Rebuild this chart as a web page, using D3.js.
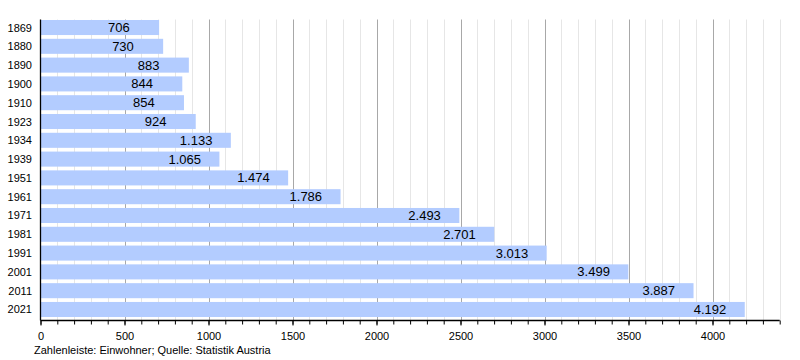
<!DOCTYPE html>
<html><head><meta charset="utf-8">
<script src="https://cdn.jsdelivr.net/npm/d3@7"></script>
<style>
body{margin:0;background:#fff;}
svg{display:block;font-family:"Liberation Sans",Arial,sans-serif;}
</style></head>
<body>
<svg id="c" width="800" height="360"></svg>
<script>
const years = ["1869","1880","1890","1900","1910","1923","1934","1939","1951","1961","1971","1981","1991","2001","2011","2021"];
const population = [706,730,883,844,854,924,1133,1065,1474,1786,2493,2701,3013,3499,3887,4192];
const labels = ["706","730","883","844","854","924","1.133","1.065","1.474","1.786","2.493","2.701","3.013","3.499","3.887","4.192"];
const majorTicks = [0,500,1000,1500,2000,2500,3000,3500,4000];
const footer = "Zahlenleiste: Einwohner; Quelle: Statistik Austria";

const svg = d3.select("#c");
const m = {left:40.5, top:19.5, bottom:320.5};
const x = d3.scaleLinear().domain([0,4400]).range([m.left, m.left + 4400*0.168]);
const y = d3.scaleBand().domain(years).range([20, 317]).paddingInner(0.2).paddingOuter(0);

const minor = d3.range(100, 4401, 100);
// gridlines
svg.append("g").selectAll("line").data(minor).join("line")
  .attr("x1", d=>Math.round(x(d))+0.5).attr("x2", d=>Math.round(x(d))+0.5)
  .attr("y1", m.top).attr("y2", m.bottom)
  .attr("stroke", d=> d%500===0 ? "#a8a8a8" : "#e6e6e6").attr("stroke-width",1);

// bars
svg.append("g").selectAll("rect").data(population).join("rect")
  .attr("x", x(0)).attr("y", (d,i)=>y(years[i]))
  .attr("width", d=>x(d)-x(0)).attr("height", y.bandwidth())
  .attr("fill", "#b3ccff");

// value labels
svg.append("g").selectAll("text").data(population).join("text")
  .attr("x", d=>x(d)-51).attr("y", (d,i)=>y(years[i])+y.bandwidth()/2+4.5)
  .attr("font-size", 13).attr("fill", "#000")
  .text((d,i)=>labels[i]);

// year labels
svg.append("g").selectAll("text").data(years).join("text")
  .attr("x", 32).attr("y", d=>y(d)+y.bandwidth()/2+4)
  .attr("text-anchor","end").attr("font-size", 11).attr("fill","#000")
  .text(d=>d);

// left axis line
svg.append("line").attr("x1", m.left).attr("x2", m.left).attr("y1", m.top).attr("y2", m.bottom)
  .attr("stroke","#000").attr("stroke-width",1.3);

// bottom axis
const ax = svg.append("g").attr("transform", `translate(0,${m.bottom})`);
ax.call(d3.axisBottom(x).tickValues(d3.range(0,4401,100)).tickSize(4).tickFormat(""));
ax.select(".domain").attr("stroke","#000").attr("stroke-width",1.3).attr("d", `M${m.left},0H${x(4400)}`);
ax.selectAll(".tick line").attr("stroke","#000");
const ax2 = svg.append("g").attr("transform", `translate(0,${m.bottom})`);
ax2.call(d3.axisBottom(x).tickValues(majorTicks).tickSize(5).tickFormat(d3.format("d")));
ax2.select(".domain").remove();
ax2.selectAll(".tick line").attr("stroke","#000");
ax2.selectAll(".tick text").attr("font-size", 11).attr("font-family","Liberation Sans, Arial, sans-serif").attr("fill","#000").attr("dy","1.0em");

svg.append("text").attr("x", 34).attr("y", 354).attr("font-size", 11).attr("fill","#000").text(footer);
</script>
</body></html>
